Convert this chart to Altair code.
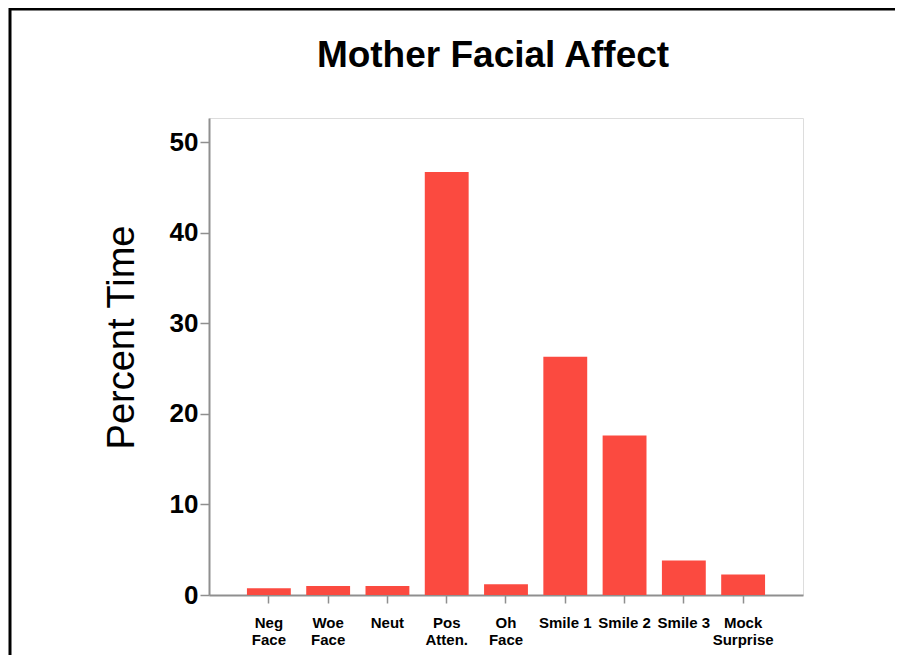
import altair as alt
import pandas as pd

categories = ["Neg\nFace", "Woe\nFace", "Neut", "Pos\nAtten.", "Oh\nFace",
              "Smile 1", "Smile 2", "Smile 3", "Mock\nSurprise"]
values = [0.75, 1.0, 1.0, 46.7, 1.2, 26.3, 17.6, 3.8, 2.25]
y_ticks = [0, 10, 20, 30, 40, 50]

df = pd.DataFrame({"category": categories, "percent": values})

FONT = "Liberation Sans"
GREY = "#8f8f8f"

bars = alt.Chart(df).mark_bar(color="#fb4a40").encode(
    x=alt.X("category:N", sort=categories,
            scale=alt.Scale(paddingInner=0.26, paddingOuter=0.64),
            axis=alt.Axis(title=None, labelAngle=0, labelFont=FONT, labelFontSize=15,
                          labelFontWeight="bold", labelColor="black",
                          labelExpr="split(datum.label, '\\n')", labelLineHeight=17,
                          labelBaseline="top", labelPadding=12, tickSize=8,
                          tickColor=GREY, tickWidth=1.5, domainColor=GREY,
                          domainWidth=2)),
    y=alt.Y("percent:Q", scale=alt.Scale(domain=[0, 52.65], nice=False),
            axis=alt.Axis(title="Percent Time", values=y_ticks, grid=False,
                          titleFont=FONT, titleFontSize=38, titleFontWeight="normal",
                          titleColor="black", titleAngle=270, titleBaseline="alphabetic",
                          titleAlign="center", titleX=-76, titleY=219,
                          labelFont=FONT, labelFontSize=26, labelFontWeight="bold",
                          labelColor="black", labelPadding=2, tickSize=9,
                          tickColor=GREY, tickWidth=1.5, domainColor=GREY,
                          domainWidth=2)),
)

left_line = alt.Chart(alt.Data(values=[{}])).mark_rule(color="black", strokeWidth=3).encode(
    x=alt.value(-199), y=alt.value(-110), y2=alt.value(537))
top_line = alt.Chart(alt.Data(values=[{}])).mark_rule(color="black", strokeWidth=3).encode(
    x=alt.value(-199), x2=alt.value(686), y=alt.value(-109))

chart = alt.layer(bars, left_line, top_line).properties(
    width=594, height=477,
    autosize=alt.AutoSizeParams(type="none"),
    padding={"left": 201, "top": 110, "right": 92, "bottom": 60},
    title=alt.TitleParams("Mother Facial Affect", font=FONT, fontSize=37,
                          fontWeight="bold", color="black", anchor="middle",
                          frame="group", dx=-13, dy=68, offset=0),
).configure_view(stroke=GREY, strokeWidth=2).configure(background="white")

chart.save("out.html", embed_options={"renderer": "svg", "actions": False})
